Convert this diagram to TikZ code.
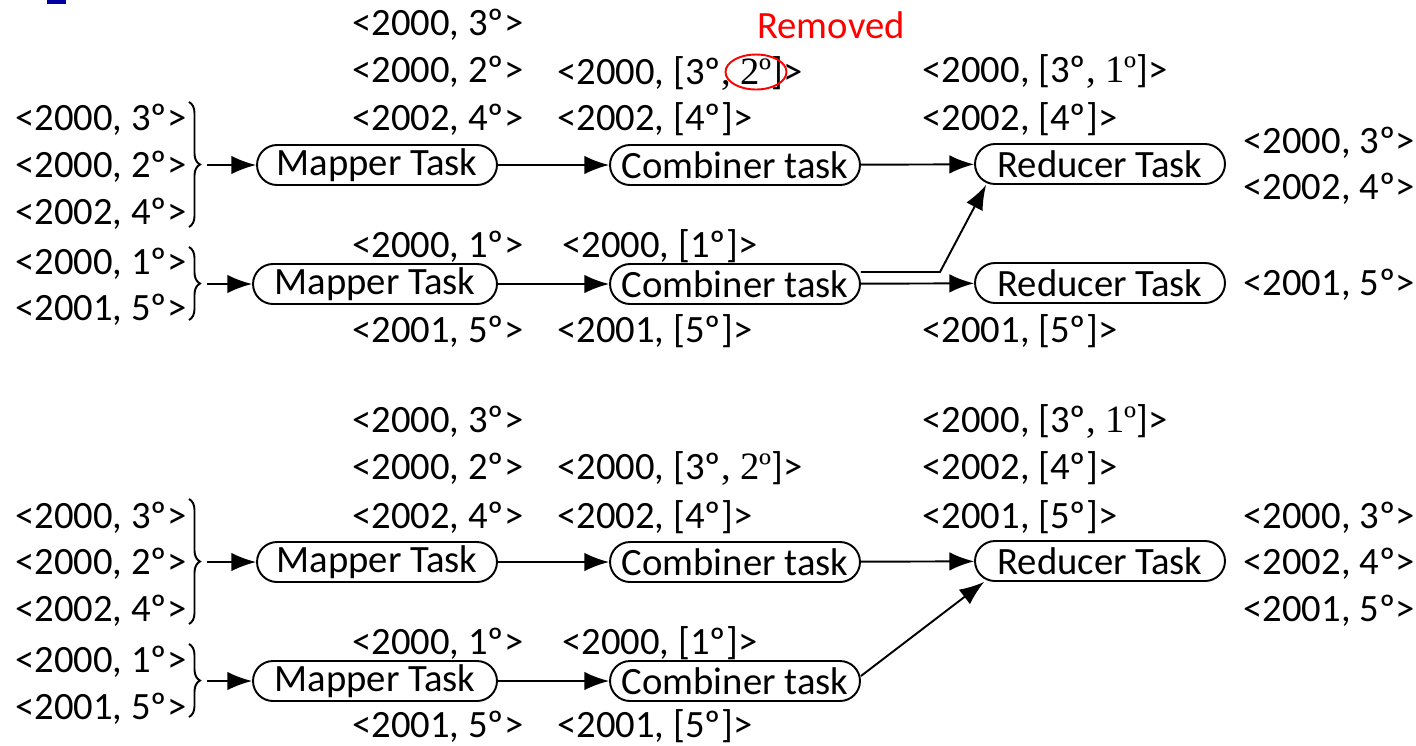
\documentclass[tikz,border=0pt]{standalone}
\usepackage{fontspec}
\setmainfont{Carlito}
\newfontfamily\tnr{Liberation Serif}
\usetikzlibrary{arrows.meta,decorations.pathreplacing}
\definecolor{navy}{RGB}{0,0,160}

\begin{document}
\begin{tikzpicture}[x=0.02cm,y=-0.02cm,font=\fontsize{22}{26}\selectfont]
\tikzset{task/.style = {shape=rectangle,draw,rounded corners=0.4cm,line width=1.1pt,minimum height=0.8cm,minimum width=5cm,inner sep=0pt}}
\tikzset{edge/.style = {->,> = {Latex[length=14pt,width=10.5pt]},line width=1.1pt}}
\tikzset{kv/.style = {anchor=west,inner sep=0pt,text height=14pt,text depth=0pt}}
\tikzset{grp/.style = {decorate,decoration={brace,amplitude=0.22cm},line width=1.1pt}}
\useasboundingbox (0,0) rectangle (1416,745);
\fill[navy] (47,0) rectangle (66,4);

%% first run: combiner output goes to two reducers
\node[kv] (i1) at (15,118) {<2000, 3º>};
\node[kv] (i2) at (15,165) {<2000, 2º>};
\node[kv] (i3) at (15,212) {<2002, 4º>};
\node[kv] (i4) at (15,262) {<2000, 1º>};
\node[kv] (i5) at (15,308) {<2001, 5º>};
\draw[grp] (189,102) -- (189,227);
\draw[grp] (189,247) -- (189,320);
\coordinate (g1) at (207,165);
\coordinate (g2) at (207,284);

\node[task,minimum width=4.8cm] (map1) at (377,165) {Mapper Task};
\node[task,minimum width=4.88cm] (map2) at (375,284) {Mapper Task};
\node[task] (comb1) at (735,165) {Combiner task};
\node[task] (comb2) at (735,284) {Combiner task};
\node[task] (red1) at (1100,164) {Reducer Task};
\node[task] (red2) at (1100,283) {Reducer Task};

\node[kv] (m1a) at (352,23) {<2000, 3º>};
\node[kv] (m1b) at (352,70) {<2000, 2º>};
\node[kv] (m1c) at (352,118) {<2002, 4º>};
\node[kv] (m2a) at (352,245) {<2000, 1º>};
\node[kv] (m2b) at (352,330) {<2001, 5º>};

\node[kv] (c1a) at (557,72) {<2000, [3º{\tnr, 2º}]>};
\node[kv] (c1b) at (557,118) {<2002, [4º]>};
\node[kv] (c2a) at (562,245) {<2000, [1º]>};
\node[kv] (c2b) at (557,330) {<2001, [5º]>};
\node[red,inner sep=0pt] (rm) at (831,25) {Removed};
\draw[red,line width=1.1pt] (756,72) ellipse [x radius=0.61cm, y radius=0.35cm];

\node[kv] (r1a) at (922,70) {<2000, [3º{\tnr, 1º}]>};
\node[kv] (r1b) at (922,118) {<2002, [4º]>};
\node[kv] (r2a) at (922,330) {<2001, [5º]>};

\node[kv] (o1) at (1243,141) {<2000, 3º>};
\node[kv] (o2) at (1243,187) {<2002, 4º>};
\node[kv] (o3) at (1243,283) {<2001, 5º>};

\draw[edge] (g1) -- (map1);
\draw[edge] (g2) -- (map2);
\draw[edge] (map1) -- (comb1);
\draw[edge] (map2) -- (comb2);
\draw[edge] (comb1) -- (red1);
\draw[edge] (comb2) -- (red2);
\coordinate (kink) at (940,272);
\draw[edge] ([yshift=0.24cm]comb2.east) -- (kink) -- ([xshift=0.24cm]red1.south west);

%% second run: both combiners feed one reducer
\node[kv] (i6) at (15,516) {<2000, 3º>};
\node[kv] (i7) at (15,562) {<2000, 2º>};
\node[kv] (i8) at (15,609) {<2002, 4º>};
\node[kv] (i9) at (15,660) {<2000, 1º>};
\node[kv] (i10) at (15,707) {<2001, 5º>};
\draw[grp] (189,499) -- (189,624);
\draw[grp] (189,644) -- (189,717);
\coordinate (g3) at (207,562);
\coordinate (g4) at (207,681);

\node[task,minimum width=4.8cm] (map3) at (377,562) {Mapper Task};
\node[task,minimum width=4.88cm] (map4) at (375,681) {Mapper Task};
\node[task] (comb3) at (735,562) {Combiner task};
\node[task] (comb4) at (735,681) {Combiner task};
\node[task] (red3) at (1100,561) {Reducer Task};

\node[kv] (m3a) at (352,420) {<2000, 3º>};
\node[kv] (m3b) at (352,467) {<2000, 2º>};
\node[kv] (m3c) at (352,516) {<2002, 4º>};
\node[kv] (m4a) at (352,642) {<2000, 1º>};
\node[kv] (m4b) at (352,725) {<2001, 5º>};

\node[kv] (c3a) at (557,467) {<2000, [3º{\tnr, 2º}]>};
\node[kv] (c3b) at (557,516) {<2002, [4º]>};
\node[kv] (c4a) at (562,642) {<2000, [1º]>};
\node[kv] (c4b) at (557,725) {<2001, [5º]>};

\node[kv] (r3a) at (922,420) {<2000, [3º{\tnr, 1º}]>};
\node[kv] (r3b) at (922,467) {<2002, [4º]>};
\node[kv] (r3c) at (922,516) {<2001, [5º]>};

\node[kv] (o4) at (1243,516) {<2000, 3º>};
\node[kv] (o5) at (1243,562) {<2002, 4º>};
\node[kv] (o6) at (1243,609) {<2001, 5º>};

\draw[edge] (g3) -- (map3);
\draw[edge] (g4) -- (map4);
\draw[edge] (map3) -- (comb3);
\draw[edge] (map4) -- (comb4);
\draw[edge] (comb3) -- (red3);
\draw[edge] ([yshift=0.1cm]comb4.east) -- ([xshift=0.2cm]red3.south west);
\end{tikzpicture}
\end{document}
